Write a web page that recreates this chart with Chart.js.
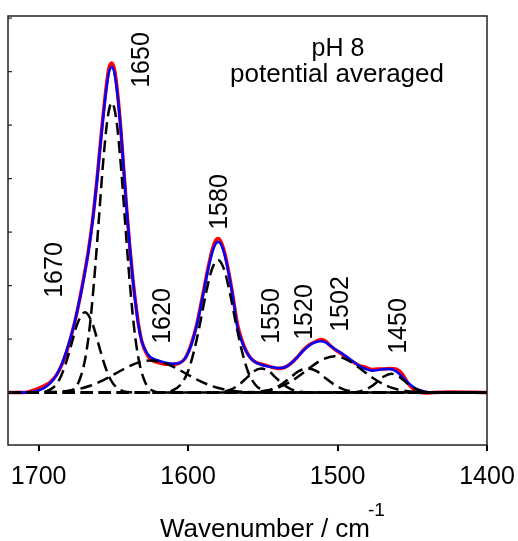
<!DOCTYPE html>
<html>
<head>
<meta charset="utf-8">
<script src="https://cdn.jsdelivr.net/npm/chart.js@4"></script>
<style>
html,body{margin:0;padding:0;background:#fff;}
canvas{display:block;}
</style>
</head>
<body>
<canvas id="c" width="518" height="541"></canvas>
<script>
// ---- data ----
const xTicks = [1700, 1600, 1500, 1400];

// fitted component bands (wavenumber / absorbance-like units)
const wn1670 = [1720,1705,1700,1695,1690,1686,1682,1678,1674,1669,1664,1660,1656,1652,1648,1643,1638,1630,1400];
const y1670  = [0,0,0.004,0.023,0.10,0.25,0.53,0.91,1.29,1.5,1.29,0.91,0.53,0.25,0.10,0.023,0.004,0,0];

const wn1650 = [1720,1690,1684,1678,1673,1669,1666,1663,1660,1657,1654,1651,1648,1645,1642,1639,1636,1633,1629,1624,1618,1610,1400];
const y1650  = [0,0,0.003,0.039,0.21,0.61,1.18,2.05,3.13,4.25,5.10,5.42,5.10,4.25,3.13,2.05,1.18,0.61,0.21,0.039,0.003,0,0];

const wn1620 = [1720,1703,1691,1681,1673,1665,1657,1649,1641,1633,1625,1617,1609,1601,1593,1585,1577,1569,1559,1547,1400];
const y1620  = [0,0.002,0.010,0.031,0.068,0.132,0.228,0.348,0.471,0.565,0.6,0.565,0.471,0.348,0.228,0.132,0.068,0.031,0.010,0.002,0];

const wn1580 = [1720,1618,1611,1605,1600,1596,1592,1588,1584,1580,1576,1572,1568,1564,1560,1555,1549,1542,1400];
const y1580  = [0,0.004,0.032,0.146,0.40,0.78,1.29,1.86,2.31,2.48,2.31,1.86,1.29,0.78,0.40,0.146,0.032,0.004,0];

const wn1550 = [1720,1583,1577,1571,1566,1561,1556,1551,1546,1541,1536,1531,1525,1519,1400];
const y1550  = [0,0.003,0.015,0.061,0.146,0.27,0.40,0.45,0.40,0.27,0.146,0.061,0.015,0.003,0];

const wn1520 = [1720,1557,1550,1544,1538,1532,1526,1520,1514,1508,1502,1496,1490,1483,1400];
const y1520  = [0,0.004,0.020,0.061,0.146,0.27,0.40,0.45,0.40,0.27,0.146,0.061,0.020,0.004,0];

const wn1502 = [1720,1572,1560,1550,1540,1530,1521,1512,1502,1492,1483,1474,1464,1454,1444,1432,1400];
const y1502  = [0,0.001,0.006,0.028,0.092,0.23,0.41,0.59,0.68,0.59,0.41,0.23,0.092,0.028,0.006,0.001,0];

const wn1450 = [1720,1490,1485,1481,1477,1473,1469,1464,1459,1455,1451,1447,1443,1438,1400];
const y1450  = [0,0.005,0.023,0.059,0.123,0.21,0.30,0.35,0.30,0.21,0.123,0.059,0.023,0.005,0];

// measured spectrum (red) and fit sum (blue)
const wnSpec = [1720,1710,1705,1700,1696,1692,1688,1684,1680,1676,
                1673,1670,1667,1664,1661,1658,1655,1653,1651,1649,
                1647,1645,1643,1641,1639,1637,1635,1633,1631,1628,
                1625,1620,1615,1610,1606,1602,1598,1594,1590,1587,
                1584,1582,1580,1578,1576,1573,1570,1567,1564,1561,
                1558,1555,1551,1547,1543,1540,1537,1534,1531,1527,
                1523,1519,1515,1511,1508,1505,1501,1497,1493,1489,
                1485,1481,1477,1473,1469,1465,1461,1457,1453,1449,
                1445,1441,1436,1425,1400];
const yFit = [0,0,0.01,0.04,0.09,0.18,0.33,0.57,0.90,1.30,
              1.68,2.10,2.58,3.18,3.95,4.82,5.60,5.98,6.08,5.93,
              5.50,4.90,4.15,3.40,2.72,2.12,1.62,1.22,0.96,0.76,
              0.66,0.60,0.56,0.54,0.55,0.64,0.88,1.28,1.82,2.25,
              2.60,2.76,2.82,2.77,2.62,2.25,1.78,1.22,0.95,0.76,
              0.64,0.57,0.52,0.49,0.47,0.46,0.46,0.49,0.55,0.66,
              0.78,0.88,0.94,0.96,0.94,0.88,0.80,0.73,0.65,0.57,
              0.49,0.44,0.41,0.42,0.44,0.44,0.40,0.30,0.19,0.10,
              0.045,0.017,0.004,0,0];
const yMeas = [0,0,0.03,0.08,0.13,0.20,0.33,0.55,0.88,1.30,
               1.68,2.12,2.60,3.20,3.97,4.86,5.66,6.06,6.16,6.00,
               5.55,4.92,4.15,3.40,2.72,2.14,1.65,1.24,0.96,0.74,
               0.62,0.56,0.53,0.53,0.55,0.64,0.90,1.30,1.85,2.28,
               2.65,2.82,2.88,2.82,2.66,2.28,1.80,1.28,0.98,0.77,
               0.64,0.57,0.53,0.50,0.47,0.45,0.46,0.49,0.55,0.66,
               0.79,0.89,0.95,0.99,0.96,0.88,0.79,0.72,0.64,0.56,
               0.50,0.47,0.43,0.44,0.44,0.45,0.44,0.36,0.18,0.06,
               0.01,-0.01,0.00,0.01,0];

const peakLabels = ['1670','1650','1620','1580','1550','1520','1502','1450'];
const noteLines = ['pH 8', 'potential averaged'];
const xTitle = 'Wavenumber / cm';
const xTitleSup = '-1';

// ---- layout / style (not data) ----
const FONT = '"Liberation Sans", Arial, Helvetica, sans-serif';
const peakLabelPos = [[55,270],[142,60],[163,316],[220,202],[272,316],[305,312],[341,304],[399,326]];

function pts(xs, ys){ return xs.map((x,i)=>({x:x, y:ys[i]})); }

const compSets = [
  [wn1670,y1670],[wn1650,y1650],[wn1620,y1620],[wn1580,y1580],
  [wn1550,y1550],[wn1520,y1520],[wn1502,y1502],[wn1450,y1450]
];
const datasets = compSets.map(([xs,ys]) => ({
  data: pts(xs,ys),
  borderColor: '#000',
  borderWidth: 2.5,
  borderDash: [12,6],
  pointRadius: 0,
  cubicInterpolationMode: 'monotone',
  fill: false
}));
datasets.push({
  data: pts(wnSpec, yFit), borderColor: '#0000ff', borderWidth: 2.5,
  pointRadius: 0, cubicInterpolationMode: 'monotone', fill:false
});
datasets.push({
  data: pts(wnSpec, yMeas), borderColor: '#ff0000', borderWidth: 3.5,
  pointRadius: 0, cubicInterpolationMode: 'monotone', fill:false
});

const decor = {
  id: 'decor',
  afterDraw(chart){
    const ctx = chart.ctx, a = chart.chartArea, ys = chart.scales.y;
    ctx.save();
    // frame
    ctx.strokeStyle = '#222';
    ctx.lineWidth = 1.5;
    ctx.strokeRect(a.left, a.top, a.right - a.left, a.bottom - a.top);
    // inward y ticks
    ctx.lineWidth = 1.2;
    for (let v = 0; v <= 7; v++){
      const py = ys.getPixelForValue(v);
      ctx.beginPath(); ctx.moveTo(a.left, py); ctx.lineTo(a.left + 4, py); ctx.stroke();
    }
    // peak labels (rotated)
    ctx.fillStyle = '#000';
    ctx.font = '25px ' + FONT;
    ctx.textAlign = 'center';
    ctx.textBaseline = 'middle';
    peakLabels.forEach((t,i)=>{
      const [px,py] = peakLabelPos[i];
      ctx.save(); ctx.translate(px,py); ctx.rotate(-Math.PI/2);
      ctx.fillText(t, 0, 0); ctx.restore();
    });
    // note
    ctx.textBaseline = 'alphabetic';
    ctx.fillText(noteLines[0], 338, 56);
    ctx.font = '26px ' + FONT;
    ctx.fillText(noteLines[1], 337, 82);
    // x title with superscript
    ctx.textAlign = 'left';
    ctx.font = '26px ' + FONT;
    ctx.fillText(xTitle, 160, 537);
    const w = ctx.measureText(xTitle).width;
    ctx.font = '19px ' + FONT;
    ctx.fillText(xTitleSup, 160 + w - 2, 516);
    ctx.restore();
  }
};

new Chart(document.getElementById('c'), {
  type: 'line',
  data: { datasets },
  options: {
    responsive: false,
    devicePixelRatio: 1,
    animation: false,
    layout: { padding: { left: 8, right: 31, top: 16, bottom: 0 } },
    plugins: { legend: { display: false }, tooltip: { enabled: false } },
    scales: {
      x: {
        type: 'linear', reverse: true, min: 1400, max: 1720.5,
        afterFit(s){ s.height = 96; s.paddingRight = 0; s.paddingLeft = 0; },
        afterBuildTicks(s){ s.ticks = xTicks.map(v=>({value:v})); },
        ticks: { color:'#000', font:{ family: FONT, size: 25 }, padding: 11, maxRotation: 0, autoSkip: false,
                 callback: v => String(v) },
        grid: { drawOnChartArea: false, drawTicks: true, tickLength: 6, color: '#000', lineWidth: 2 },
        border: { display: false }
      },
      y: {
        display: false, min: -0.98, max: 7.04
      }
    }
  },
  plugins: [decor]
});
</script>
</body>
</html>
